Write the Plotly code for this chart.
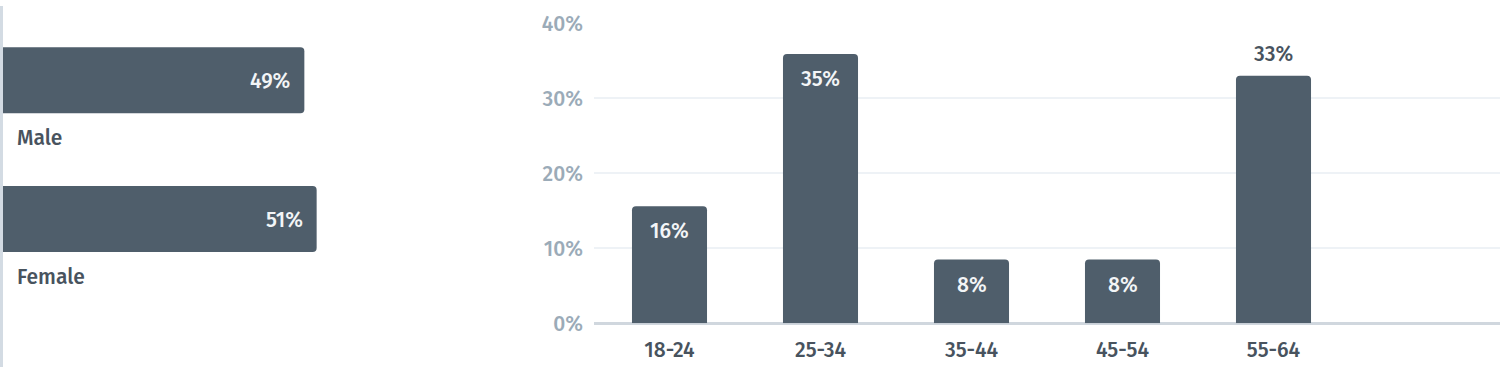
import plotly.graph_objects as go

# ---- data ----
gender_categories = ["Male", "Female"]
gender_values = [49, 51]
gender_labels = ["49%", "51%"]

age_categories = ["18-24", "25-34", "35-44", "45-54", "55-64"]
age_values = [15.6, 35.9, 8.5, 8.5, 33.0]
age_labels = ["16%", "35%", "8%", "8%", "33%"]
age_label_inside = [True, True, True, True, False]

y_ticks = [0, 10, 20, 30, 40]
y_tick_labels = ["0%", "10%", "20%", "30%", "40%"]

# ---- style ----
BAR = "#4f5e6b"
FONT = "Fira Sans, Open Sans, Noto Sans, sans-serif"
TICK_GRAY = "#9babb8"
DARK_TEXT = "#48535e"
FS = 21
W, H = 1500, 374

fig = go.Figure()

fig.add_trace(go.Bar(
    x=gender_values, y=gender_categories, orientation="h",
    marker=dict(color=BAR, cornerradius=4, line=dict(width=0)),
    width=0.476, xaxis="x", yaxis="y", hoverinfo="skip",
))

fig.add_trace(go.Bar(
    x=age_categories, y=age_values,
    marker=dict(color=BAR, cornerradius=4, line=dict(width=0)),
    width=0.497, xaxis="x2", yaxis="y2", hoverinfo="skip",
))

annotations = []
for cat, val, lab in zip(gender_categories, gender_values, gender_labels):
    annotations.append(dict(
        x=val, y=cat, xref="x", yref="y", text=lab, showarrow=False,
        xanchor="right", yanchor="middle", xshift=-12, yshift=-1,
        font=dict(family=FONT, size=FS, color="#f3f5f7", weight=500),
    ))
    annotations.append(dict(
        x=0, y=cat, xref="x", yref="y", text=cat, showarrow=False,
        xanchor="left", yanchor="middle", xshift=12, yshift=-58,
        font=dict(family=FONT, size=FS, color=DARK_TEXT, weight=500),
    ))

for cat, val, lab, inside in zip(age_categories, age_values, age_labels, age_label_inside):
    annotations.append(dict(
        x=cat, y=val, xref="x2", yref="y2", text=lab, showarrow=False,
        xanchor="center", yanchor="middle",
        yshift=-25 if inside else 22,
        font=dict(family=FONT, size=FS,
                  color="#f3f5f7" if inside else DARK_TEXT, weight=500),
    ))

fig.update_layout(
    width=W, height=H, autosize=False,
    margin=dict(l=0, r=0, t=0, b=0, pad=0, autoexpand=False),
    paper_bgcolor="white", plot_bgcolor="white",
    showlegend=False,
    font=dict(family=FONT),
    xaxis=dict(domain=[3 / W, 500 / W], range=[0, 497 / 6.15],
               visible=False, fixedrange=True, automargin=False),
    yaxis=dict(domain=[0, 1], type="category",
               categoryorder="array", categoryarray=gender_categories,
               range=[(H - 80.3) / 138.6, -80.3 / 138.6],
               visible=False, automargin=False),
    xaxis2=dict(domain=[594 / W, 1.0], type="category",
                categoryorder="array", categoryarray=age_categories,
                range=[-0.5, 5.5], anchor="y2", automargin=False,
                showgrid=False, showline=False, zeroline=False,
                ticks="", ticklabelstandoff=12,
                tickfont=dict(family=FONT, size=FS, color=DARK_TEXT, weight=500)),
    yaxis2=dict(domain=[(H - 323.3) / H, (H - 23.3) / H], anchor="x2",
                range=[0, 40], tickmode="array", tickvals=y_ticks,
                ticktext=y_tick_labels, automargin=False,
                showgrid=True, gridcolor="#eef2f6", gridwidth=2,
                zeroline=True, zerolinecolor="#d0d7de", zerolinewidth=3,
                showline=False, ticks="", ticklabelstandoff=10,
                tickfont=dict(family=FONT, size=FS, color=TICK_GRAY, weight=500)),
    annotations=annotations,
    shapes=[dict(type="line", xref="paper", yref="paper",
                 x0=1.5 / W, x1=1.5 / W, y0=(H - 6) / H, y1=(H - 367) / H,
                 line=dict(color="#d3dbe3", width=3))],
)

fig.write_html("out.html")
